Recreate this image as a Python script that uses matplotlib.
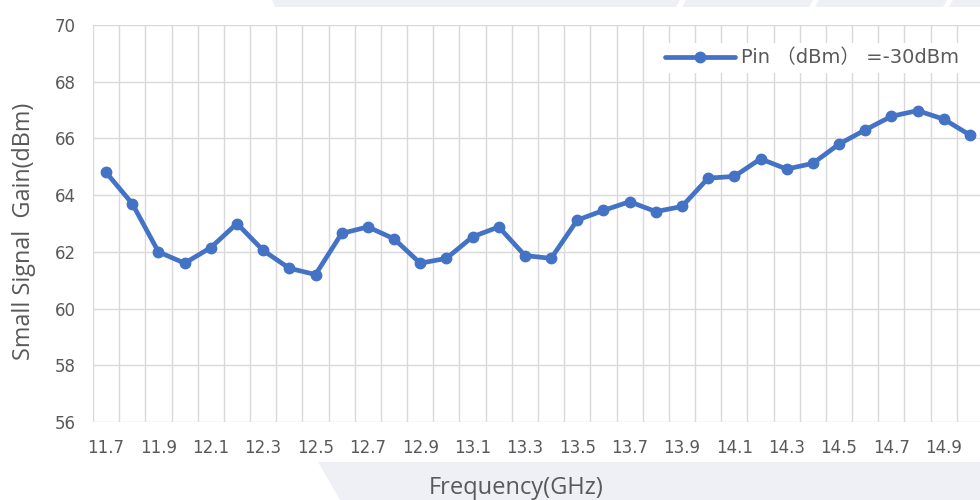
import matplotlib
matplotlib.use("Agg")
import matplotlib.pyplot as plt
from matplotlib.patches import Polygon

freq = [11.7, 11.8, 11.9, 12.0, 12.1, 12.2, 12.3, 12.4, 12.5, 12.6, 12.7, 12.8,
        12.9, 13.0, 13.1, 13.2, 13.3, 13.4, 13.5, 13.6, 13.7, 13.8, 13.9, 14.0,
        14.1, 14.2, 14.3, 14.4, 14.5, 14.6, 14.7, 14.8, 14.9, 15.0]
gain = [64.8, 63.7, 62.0, 61.6, 62.15, 63.0, 62.05, 61.42, 61.2, 62.65, 62.88, 62.46,
        61.6, 61.77, 62.53, 62.88, 61.87, 61.77, 63.12, 63.46, 63.77, 63.42, 63.6, 64.6,
        64.66, 65.28, 64.92, 65.12, 65.8, 66.3, 66.78, 66.98, 66.68, 66.12]
tick_labels = ["11.7", "11.9", "12.1", "12.3", "12.5", "12.7", "12.9", "13.1", "13.3",
               "13.5", "13.7", "13.9", "14.1", "14.3", "14.5", "14.7", "14.9"]
legend_label = "Pin \uff08dBm\uff09 =-30dBm"

W, H = 980, 500
fig = plt.figure(figsize=(9.8, 5.0), dpi=100)
fig.patch.set_facecolor("white")


def px(x, y):
    return (x / W, 1 - y / H)


# background decoration bands
band = "#eef0f5"
fig.patches.append(Polygon([px(272, 0), px(980, 0), px(980, 7), px(275, 7)],
                           closed=True, transform=fig.transFigure, facecolor=band,
                           edgecolor="none", zorder=0))
for x0 in (680, 813, 947):
    fig.patches.append(Polygon([px(x0, 0), px(x0 + 6, 0), px(x0 + 2, 7), px(x0 - 4, 7)],
                               closed=True, transform=fig.transFigure, facecolor="white",
                               edgecolor="none", zorder=0))
fig.patches.append(Polygon([px(318, 462), px(980, 462), px(980, 500), px(340, 500)],
                           closed=True, transform=fig.transFigure, facecolor=band,
                           edgecolor="none", zorder=0))

ax = fig.add_axes([93 / W, 1 - 422 / H, 890 / W, (422 - 25) / H])
ax.set_facecolor("none")

xs = list(range(len(freq)))
ax.plot(xs, gain, color="#4472c4", lw=3.4, marker="o", ms=7.5,
        label=legend_label, zorder=3, solid_capstyle="round")

ax.set_xlim(-0.5, len(freq) - 0.5)
ax.set_ylim(56, 70)
ax.set_yticks(range(56, 71, 2))
ax.set_xticks(xs[::2])
ax.set_xticklabels(tick_labels)

# category-boundary vertical grid and horizontal grid
for b in range(len(freq) + 1):
    ax.axvline(b - 0.5, color="#d9d9d9", lw=1.0, zorder=1)
for yv in range(56, 71, 2):
    ax.axhline(yv, color="#d9d9d9", lw=1.0, zorder=1)

for s in ax.spines.values():
    s.set_visible(False)
ax.tick_params(length=0, colors="#595959", labelsize=12)
ax.tick_params(axis="x", pad=12.5)
ax.tick_params(axis="y", pad=12.5)

leg = ax.legend(loc="upper right", bbox_to_anchor=(0.99, 0.98), frameon=True,
                fancybox=False, edgecolor="none", facecolor="white", framealpha=1,
                handlelength=3.6, handletextpad=0.3, borderpad=0.3,
                prop={"family": ["DejaVu Sans", "Noto Sans CJK SC"], "size": 14})
for t in leg.get_texts():
    t.set_color("#595959")

fig.text(516 / W, 1 - 488 / H, "Frequency(GHz)", ha="center", va="center",
         fontsize=17, color="#595959", family="Open Sans")
fig.text(24 / W, 1 - 231 / H, "Small Signal  Gain(dBm)", ha="center", va="center",
         rotation=90, fontsize=16.8, color="#595959", family="Open Sans")

fig.savefig("out.png", dpi=100, facecolor="white")
